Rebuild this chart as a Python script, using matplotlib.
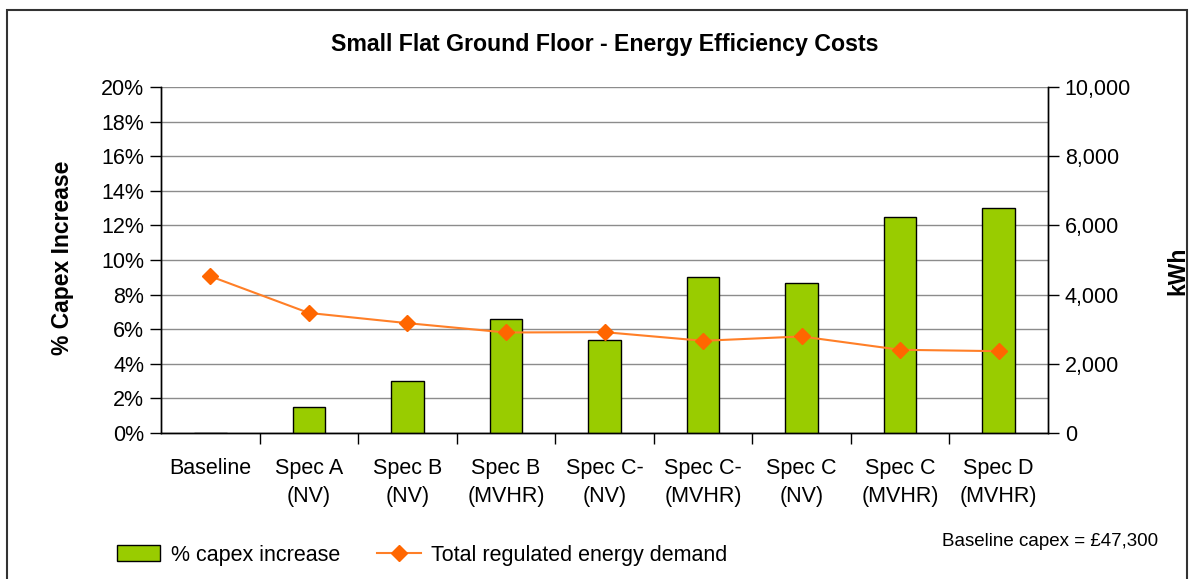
import matplotlib.pyplot as plt
from matplotlib.patches import Rectangle
from matplotlib.ticker import FuncFormatter

plt.rcParams['font.family'] = ['Liberation Sans', 'DejaVu Sans']

# data
categories = ['Baseline', 'Spec A\n(NV)', 'Spec B\n(NV)', 'Spec B\n(MVHR)', 'Spec C-\n(NV)',
              'Spec C-\n(MVHR)', 'Spec C\n(NV)', 'Spec C\n(MVHR)', 'Spec D\n(MVHR)']
capex_increase = [0.0, 1.5, 3.0, 6.6, 5.4, 9.0, 8.65, 12.5, 13.0]
energy_demand = [4530, 3470, 3175, 2905, 2915, 2665, 2790, 2405, 2365]

x = list(range(len(categories)))

fig = plt.figure(figsize=(11.94, 5.79), dpi=100)
ax = fig.add_axes([161 / 1194, 1 - 433 / 579, 887 / 1194, 346 / 579])
ax2 = ax.twinx()

bars = ax.bar(x, capex_increase, width=0.33, color='#99CC00', edgecolor='black',
              linewidth=1.0, zorder=3, label='% capex increase')
line, = ax2.plot(x, energy_demand, color='#FF7F27', linewidth=1.5, marker='D',
                 markersize=8, markerfacecolor='#FF6600', markeredgecolor='#FF6600',
                 zorder=4, label='Total regulated energy demand')

ax.set_xlim(-0.5, len(categories) - 0.5)
ax.set_ylim(0, 20)
ax.set_yticks(range(0, 21, 2))
ax.yaxis.set_major_formatter(FuncFormatter(lambda v, p: f'{v:.0f}%'))
ax2.set_ylim(0, 10000)
ax2.set_yticks(range(0, 10001, 2000))
ax2.yaxis.set_major_formatter(FuncFormatter(lambda v, p: f'{v:,.0f}'))

ax.grid(axis='y', color='#8c8c8c', linewidth=1.0, zorder=0)
ax.set_axisbelow(True)

# ticks on category boundaries, labels centred under categories
ax.set_xticks([i + 0.5 for i in x[:-1]])
ax.set_xticklabels([])
ax.set_xticks(x, minor=True)
ax.set_xticklabels(categories, minor=True, fontsize=15.5, linespacing=1.42)
ax.tick_params(axis='x', which='minor', length=0, pad=18)
ax.tick_params(axis='x', which='major', direction='out', length=8, width=1)
ax.tick_params(axis='y', labelsize=15.5, direction='out', length=8, width=1, pad=4)
ax2.tick_params(axis='y', labelsize=15.5, direction='out', length=8, width=1, pad=4)

for a in (ax, ax2):
    for s in a.spines.values():
        s.set_linewidth(1.0)
    a.spines['top'].set_visible(False)

fig.text(0.5063, 1 - 45 / 579, 'Small Flat Ground Floor - Energy Efficiency Costs',
         ha='center', va='center', fontsize=16.7, fontweight='bold')
fig.text(62 / 1194, 1 - 258 / 579, '% Capex Increase', rotation=90, ha='center',
         va='center', fontsize=16.5, fontweight='bold')
fig.text(1178 / 1194, 1 - 271 / 579, 'kWh', rotation=90, ha='center',
         va='center', fontsize=16.5, fontweight='bold')

fig.legend(handles=[bars, line], loc='center left', bbox_to_anchor=(98 / 1194, 1 - 555 / 579),
           ncol=2, frameon=False, fontsize=15.5, handlelength=2.0, columnspacing=1.75,
           handletextpad=0.47)

fig.text(1158 / 1194, 1 - 541 / 579, 'Baseline capex = £47,300', ha='right', va='center',
         fontsize=13.5)

# outer chart border
fig.patches.append(Rectangle((7 / 1194, -0.05), 1180 / 1194, 1.05 - 10 / 579,
                             transform=fig.transFigure, fill=False,
                             edgecolor='#333333', linewidth=1.5))

fig.savefig('out.png', dpi=100)
